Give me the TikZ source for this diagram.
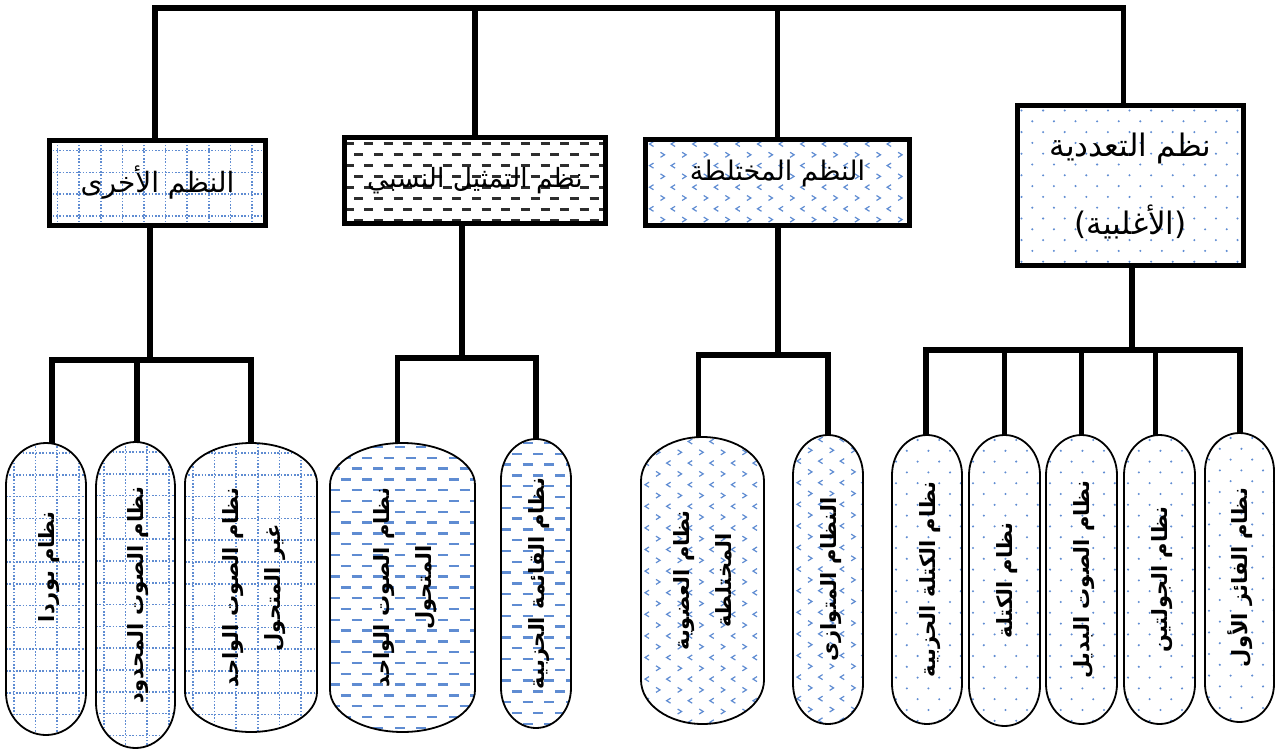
\documentclass[tikz,border=0pt]{standalone}
\usepackage{fontspec}
\usepackage{graphicx}
\TeXXeTstate=1
\newfontfamily\arabicfont[Script=Arabic]{DejaVu Sans}
\newfontfamily\latinfont{DejaVu Sans}
\definecolor{patblue}{RGB}{95,140,210}
\definecolor{patdark}{RGB}{45,45,45}
\newcommand\ptext[1]{\rotatebox{90}{\arabicfont\bfseries\fontsize{21}{42}\selectfont\begin{tabular}{@{}c@{}}#1\end{tabular}}}
\newcommand\pill[7]{%
  \pgfmathsetmacro\pcx{(#2+#3)/2}%
  \pgfmathsetmacro\prx{(#3-#2)/2}%
  \pgfmathsetmacro\pcy{(#4+#5)/2}%
  \pgfmathsetmacro\pww{#3-#2}%
  \pgfmathsetmacro\phh{#5-#4}%
  \pgfmathsetmacro\pya{#4+#6}%
  \pgfmathsetmacro\pyb{#5-#6}%
  \pgfmathsetmacro\pta{#4+#6*0.4477}%
  \pgfmathsetmacro\ptb{#5-#6*0.4477}%
  \pgfmathsetmacro\pxl{\pcx-\prx*0.5523}%
  \pgfmathsetmacro\pxr{\pcx+\prx*0.5523}%
  \path[pillline,#7] (#2,\pya) .. controls (#2,\pta) and (\pxl,#4) .. (\pcx,#4) .. controls (\pxr,#4) and (#3,\pta) .. (#3,\pya) -- (#3,\pyb) .. controls (#3,\ptb) and (\pxr,#5) .. (\pcx,#5) .. controls (\pxl,#5) and (#2,\ptb) .. (#2,\pyb) -- cycle;
  \node[pillnode, minimum width=\pww pt, minimum height=\phh pt] (#1) at (\pcx,\pcy)}
\begin{document}
\begin{tikzpicture}[x=1pt,y=-1pt,
  box/.style={draw, line width=5pt, inner sep=0pt, align=center},
  conn/.style={line width=5.5pt},
  pillline/.style={draw, line width=1.8pt},
  pillnode/.style={inner sep=0pt, draw=none},
  gridline/.style={patblue, line width=1.6pt, dash pattern=on 1.6pt off 1.7pt},
  chevline/.style={patblue, line width=1.2pt},
  gridpat/.style={path picture={
    \foreach \i in {0,...,16}{
      \draw[gridline] ([xshift={\i*21.6pt+8pt}]path picture bounding box.south west) -- ([xshift={\i*21.6pt+8pt}]path picture bounding box.north west);
      \draw[gridline] ([yshift={-\i*21.8pt-10pt}]path picture bounding box.north west) -- ([yshift={-\i*21.8pt-10pt}]path picture bounding box.north east);
    }}},
  dotpat/.style={path picture={
    \foreach \j in {0,...,29}{
      \pgfmathsetmacro\dph{mod(\j,2)*10.8}
      \draw[patblue, line width=2.3pt, line cap=round, dash pattern=on 0pt off 21.6pt, dash phase=\dph pt]
        ([shift={(4pt,{-\j*10.8pt-5pt})}]path picture bounding box.north west) -- ([yshift={-\j*10.8pt-5pt}]path picture bounding box.north east);
    }}},
  bluedashpat/.style={path picture={
    \foreach \j in {0,...,29}{
      \pgfmathsetmacro\dph{mod(\j,2)*10.8}
      \draw[patblue, line width=2.4pt, dash pattern=on 10pt off 11.6pt, dash phase=\dph pt]
        ([yshift={-\j*10.8pt-4pt}]path picture bounding box.north west) -- ([yshift={-\j*10.8pt-4pt}]path picture bounding box.north east);
    }}},
  darkdashpat/.style={path picture={
    \foreach \j in {0,...,9}{
      \pgfmathsetmacro\dph{mod(\j,2)*9.8}
      \draw[patdark, line width=2.6pt, dash pattern=on 9pt off 10.6pt, dash phase=\dph pt]
        ([yshift={-\j*11pt-6pt}]path picture bounding box.north west) -- ([yshift={-\j*11pt-6pt}]path picture bounding box.north east);
    }}},
  chevpat/.style={path picture={
    \foreach \j in {0,...,29}{
      \foreach \i in {0,...,15}{
        \ifodd\j
          \draw[chevline] ([shift={({\i*21.6pt+15pt},{-\j*10.8pt-2pt})}]path picture bounding box.north west) -- ++(4pt,-2.5pt) -- ++(-4pt,-2.5pt);
        \else
          \draw[chevline] ([shift={({\i*21.6pt+8pt},{-\j*10.8pt-2pt})}]path picture bounding box.north west) -- ++(-4pt,-2.5pt) -- ++(4pt,-2.5pt);
        \fi
      }}}}
]
\useasboundingbox (0,0) rectangle (1275,750);

% upper boxes
\node[box, gridpat, minimum width=216pt, minimum height=85pt, font={\arabicfont\fontsize{28}{34}\selectfont}] (b1) at (157.5,183) {\beginR النظم الأخرى\endR};
\node[box, darkdashpat, minimum width=261pt, minimum height=86pt, font={\arabicfont\fontsize{26.5}{34}\selectfont}] (b2) at (475,180.5) {\beginR نظم التمثيل النسبي\endR};
\node[box, chevpat, minimum width=264pt, minimum height=86pt, font={\arabicfont\fontsize{27}{34}\selectfont}] (b3) at (777.5,182.5) {\raisebox{9pt}[\height][\depth]{\beginR النظم المختلطة\endR}};
\node[box, dotpat, minimum width=226pt, minimum height=160pt, font={\arabicfont\fontsize{31}{78}\selectfont}] (b4) at (1130.5,185.5) {\beginR نظم التعددية\endR\\{\latinfont(}\beginR الأغلبية\endR{\latinfont)}};

% lower pills
\pill{p1}{6}{86}{443}{735}{42}{gridpat} {\ptext{\hspace*{44pt}\beginR نظام بوردا\endR}};
\pill{p2}{96}{175}{442}{748}{45}{gridpat} {\ptext{\beginR نظام الصوت المحدود\endR}};
\pill{p3}{185}{317}{443}{732}{40}{gridpat} {\ptext{\beginR نظام الصوت الواحد\endR\\\beginR غير المتحول\endR}};
\pill{p4}{330}{475}{443}{732}{42}{bluedashpat} {\ptext{\beginR نظام الصوت الواحد\endR\\\beginR المتحول\endR}};
\pill{p5}{501}{571}{439}{728}{40}{bluedashpat} {\ptext{\beginR نظام القائمة الحزبية\endR}};
\pill{p6}{641}{764}{437}{724}{44}{chevpat} {\ptext{\beginR نظام العضوية\endR\\\beginR المختلطة\endR}};
\pill{p7}{793}{863}{435}{724}{40}{chevpat} {\ptext{\beginR النظام المتوازى\endR}};
\pill{p8}{892}{962}{435}{724}{40}{dotpat} {\ptext{\beginR نظام الكتلة الحزبية\endR}};
\pill{p9}{969}{1040}{435}{726}{40}{dotpat} {\ptext{\beginR نظام الكتلة\endR}};
\pill{p10}{1046}{1117}{435}{724}{40}{dotpat} {\ptext{\beginR نظام الصوت البديل\endR}};
\pill{p11}{1124}{1195}{435}{724}{40}{dotpat} {\ptext{\beginR نظام الجولتين\endR}};
\pill{p12}{1205}{1274}{433}{722}{38}{dotpat} {\ptext{\beginR نظام الفائز الأول\endR}};

% top connectors
\coordinate (top) at (640,8);
\draw[conn] ([xshift=-2.5pt]b1.north) |- (top) -| ([xshift=-7pt]b4.north);
\draw[conn] (b2.north) -- (b2.north |- top);
\draw[conn] (b3.north) -- (b3.north |- top);

% group connectors
\coordinate (j1) at (150,360);
\draw[conn] (b1.south -| j1) -- (j1);
\draw[conn] ([xshift=6pt]p1.north) |- (j1) -| (p3.north);
\draw[conn] ([xshift=1.5pt]p2.north) -- ([xshift=1.5pt]p2.north |- j1);

\coordinate (j2) at (462,358);
\draw[conn] (b2.south -| j2) -- (j2);
\draw[conn] ([xshift=-5pt]p4.north) |- (j2) -| (p5.north);

\coordinate (j3) at (778,355);
\draw[conn] (b3.south -| j3) -- (j3);
\draw[conn] ([xshift=-4pt]p6.north) |- (j3) -| (p7.north);

\coordinate (j4) at (1132,350);
\draw[conn] (b4.south -| j4) -- (j4);
\draw[conn] ([xshift=-1pt]p8.north) |- (j4) -| ([xshift=0.5pt]p12.north);
\draw[conn] (p9.north) -- (p9.north |- j4);
\draw[conn] (p10.north) -- (p10.north |- j4);
\draw[conn] ([xshift=-4pt]p11.north) -- ([xshift=-4pt]p11.north |- j4);
\end{tikzpicture}
\end{document}
